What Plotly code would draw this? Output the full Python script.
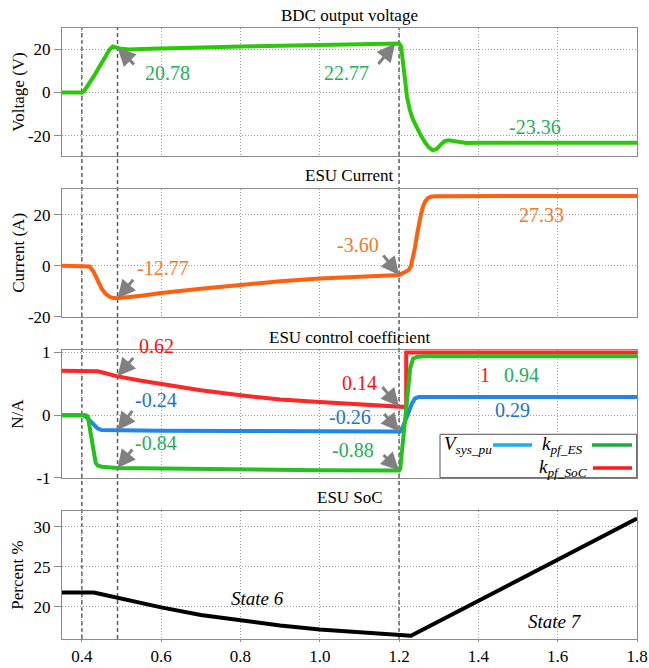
import plotly.graph_objects as go
from plotly.subplots import make_subplots

# ---- simulation traces (time in s) ----
t_volt = [0.35, 0.40, 0.405, 0.415, 0.43, 0.445, 0.46, 0.47, 0.478, 0.485, 0.49, 0.50, 0.51, 0.52,
          0.55, 0.6, 0.7, 0.8, 0.9, 1.0, 1.1, 1.2, 1.205, 1.21, 1.215, 1.22, 1.227, 1.235, 1.245,
          1.255, 1.265, 1.275, 1.285, 1.295, 1.305, 1.315, 1.325, 1.335, 1.35, 1.37, 1.4, 1.5,
          1.6, 1.7, 1.8]
v_bdc = [0, 0, 0.5, 3, 7.5, 12.2, 17, 20, 21.4, 21.3, 20.78, 20.3, 20.1, 20.05,
         20.2, 20.5, 21.0, 21.4, 21.8, 22.1, 22.45, 22.77, 21.5, 15, 6, -2, -8, -12.5, -16.5,
         -20, -23, -25.5, -26.8, -26.2, -24.2, -22.6, -22.2, -22.5, -23.2, -23.4, -23.36, -23.36,
         -23.36, -23.36, -23.36]

t_curr = [0.35, 0.415, 0.42, 0.43, 0.44, 0.45, 0.46, 0.47, 0.48, 0.49, 0.55, 0.6, 0.7, 0.8,
          0.9, 1.0, 1.1, 1.2, 1.215, 1.225, 1.23, 1.235, 1.24, 1.245, 1.25, 1.255, 1.26, 1.265,
          1.272, 1.28, 1.29, 1.31, 1.5, 1.8]
i_esu = [0, 0, -0.3, -2.5, -6, -9, -11, -12.2, -12.7, -12.77, -11.8, -10.7, -9.0, -7.5,
         -6.1, -5.0, -4.2, -3.6, -2.5, -1.5, 0, 3, 7, 12, 16.5, 20, 23, 25,
         26.5, 27.1, 27.3, 27.33, 27.33, 27.33]

t_soc_k = [0.35, 0.43, 0.44, 0.46, 0.49, 0.55, 0.6, 0.7, 0.8, 0.9, 1.0, 1.1, 1.2, 1.218, 1.218, 1.8]
k_pf_soc = [0.71, 0.71, 0.70, 0.67, 0.62, 0.55, 0.50, 0.40, 0.32, 0.25, 0.21, 0.17, 0.14, 0.13, 1.0, 1.0]

t_vsys = [0.35, 0.405, 0.41, 0.42, 0.43, 0.44, 0.45, 0.49, 0.6, 0.8, 1.0, 1.2, 1.203, 1.212,
          1.222, 1.232, 1.24, 1.25, 1.8]
v_sys_pu = [0, 0, -0.02, -0.09, -0.16, -0.21, -0.235, -0.24, -0.245, -0.25, -0.255, -0.26, -0.26,
            -0.15, 0.02, 0.18, 0.27, 0.29, 0.29]

t_kes = [0.35, 0.41, 0.415, 0.42, 0.425, 0.43, 0.435, 0.44, 0.45, 0.49, 0.6, 0.8, 1.0, 1.2,
         1.203, 1.21, 1.22, 1.228, 1.235, 1.245, 1.26, 1.8]
k_pf_es = [0, 0, -0.02, -0.2, -0.45, -0.65, -0.76, -0.8, -0.82, -0.84, -0.85, -0.865, -0.875, -0.88,
           -0.85, -0.4, 0.3, 0.75, 0.9, 0.93, 0.94, 0.94]

t_soc = [0.35, 0.43, 0.45, 0.49, 0.55, 0.6, 0.7, 0.8, 0.9, 1.0, 1.1, 1.2, 1.23, 1.8]
soc = [21.8, 21.8, 21.6, 21.15, 20.5, 19.95, 19.0, 18.3, 17.7, 17.2, 16.8, 16.45, 16.4, 31.05]

# event instants marked by vertical dashed lines
event_times = [0.40, 0.49, 1.20]

# axis ticks
x_ticks = [0.4, 0.6, 0.8, 1.0, 1.2, 1.4, 1.6, 1.8]
x_tick_text = ["0.4", "0.6", "0.8", "1.0", "1.2", "1.4", "1.6", "1.8"]
volt_ticks = [-20, 0, 20]
volt_tick_text = ["-20", "0", "20"]
curr_ticks = [-20, 0, 20]
curr_tick_text = ["-20", "0", "20"]
coef_ticks = [-1, 0, 1]
coef_tick_text = ["-1", "0", "1"]
soc_ticks = [20, 25, 30]
soc_tick_text = ["20", "25", "30"]

panel_titles = ["BDC output voltage", "ESU Current", "ESU control coefficient", "ESU SoC"]
y_titles = ["Voltage (V)", "Current (A)", "N/A", "Percent %"]

FONT = "Liberation Serif"
GREEN_V = "#2bc80a"
ORANGE = "#ff5f0f"
RED = "#ff2626"
BLUE = "#1f86f0"
GREEN_K = "#22c11e"
LBL_GREEN = "#1fae5c"
LBL_ORANGE = "#f5782a"
LBL_RED = "#ff1010"
LBL_BLUE = "#1b74d0"
ARROW = "#808080"

fig = make_subplots(rows=4, cols=1, shared_xaxes=False)

fig.add_trace(go.Scatter(x=t_volt, y=v_bdc, mode="lines", line=dict(color=GREEN_V, width=4),
                         showlegend=False), row=1, col=1)
fig.add_trace(go.Scatter(x=t_curr, y=i_esu, mode="lines", line=dict(color=ORANGE, width=4),
                         showlegend=False), row=2, col=1)
fig.add_trace(go.Scatter(x=t_soc_k, y=k_pf_soc, mode="lines", line=dict(color=RED, width=4),
                         showlegend=False), row=3, col=1)
fig.add_trace(go.Scatter(x=t_vsys, y=v_sys_pu, mode="lines", line=dict(color=BLUE, width=4),
                         showlegend=False), row=3, col=1)
fig.add_trace(go.Scatter(x=t_kes, y=k_pf_es, mode="lines", line=dict(color=GREEN_K, width=4),
                         showlegend=False), row=3, col=1)
fig.add_trace(go.Scatter(x=t_soc, y=soc, mode="lines", line=dict(color="black", width=4),
                         showlegend=False), row=4, col=1)

domains = [[0.7905, 1.0], [0.5275, 0.736], [0.2635, 0.473], [0.0, 0.2095]]
y_ranges = [[-29.5, 30], [-20, 30], [-1.0, 1.04], [16, 32]]
y_tickvals = [volt_ticks, curr_ticks, coef_ticks, soc_ticks]
y_ticktext = [volt_tick_text, curr_tick_text, coef_tick_text, soc_tick_text]

axis_common = dict(showline=True, mirror=True, linecolor="#8a8a8a", linewidth=1,
                   showgrid=True, gridcolor="#9a9a9a", gridwidth=1, griddash="1px,2px",
                   zeroline=False, automargin=False,
                   tickfont=dict(family=FONT, size=17, color="black"))

for k in range(4):
    xa = "xaxis" if k == 0 else f"xaxis{k + 1}"
    ya = "yaxis" if k == 0 else f"yaxis{k + 1}"
    last = k == 3
    fig.layout[xa].update(range=[0.35, 1.8], tickvals=x_ticks, ticktext=x_tick_text,
                          showticklabels=last, ticks="outside" if last else "",
                          ticklen=2, tickcolor="#8a8a8a", **axis_common)
    fig.layout[ya].update(domain=domains[k], range=y_ranges[k], tickvals=y_tickvals[k],
                          ticktext=y_ticktext[k], ticks="outside", ticklen=7,
                          tickcolor="#8a8a8a", **axis_common)

annotations = []

# panel titles and y-axis titles
title_y = [1.021, 0.759, 0.494, 0.231]
for k in range(4):
    annotations.append(dict(text=panel_titles[k], xref="paper", yref="paper", x=0.5,
                            y=title_y[k], xanchor="center", yanchor="middle", showarrow=False,
                            font=dict(family=FONT, size=17, color="black")))
    mid = (domains[k][0] + domains[k][1]) / 2
    annotations.append(dict(text=y_titles[k], xref="paper", yref="paper", x=-0.077, y=mid,
                            xanchor="center", yanchor="middle", textangle=-90, showarrow=False,
                            font=dict(family=FONT, size=17, color="black")))


def value_label(text, x, y, color, axis, yshift=0):
    annotations.append(dict(text=text, x=x, y=y, xref=f"x{axis}", yref=f"y{axis}",
                            showarrow=False, xanchor="center", yanchor="middle", yshift=yshift,
                            font=dict(family=FONT, size=20, color=color)))


def pointer(x, y, ax, ay, axis):
    annotations.append(dict(text="", x=x, y=y, xref=f"x{axis}", yref=f"y{axis}",
                            showarrow=True, arrowhead=2, arrowsize=1.2, arrowwidth=3,
                            arrowcolor=ARROW, ax=ax, ay=ay, standoff=0))


# voltage panel
value_label("20.78", 0.617, 9.0, LBL_GREEN, 1)
pointer(0.49, 20.78, 18, 18, 1)
value_label("22.77", 1.067, 9.0, LBL_GREEN, 1)
pointer(1.19, 22.77, -18, 22, 1)
value_label("-23.36", 1.542, -15.85, LBL_GREEN, 1)

# current panel
value_label("-12.77", 0.604, -1.0, LBL_ORANGE, 2)
pointer(0.49, -12.77, 17, -20, 2)
value_label("-3.60", 1.096, 8.14, LBL_ORANGE, 2)
pointer(1.2, -3.6, -17, -21, 2)
value_label("27.33", 1.559, 19.9, LBL_ORANGE, 2)

# control coefficient panel
value_label("0.62", 0.588, 1.02, LBL_RED, 3, yshift=5)
pointer(0.49, 0.62, 17, -20, 3)
value_label("-0.24", 0.588, 0.243, LBL_BLUE, 3)
pointer(0.49, -0.24, 16, -21, 3)
value_label("-0.84", 0.588, -0.447, LBL_GREEN, 3)
pointer(0.49, -0.84, 16, -20, 3)
value_label("0.14", 1.100, 0.509, LBL_RED, 3)
pointer(1.2, 0.14, -18, -21, 3)
value_label("-0.26", 1.075, -0.023, LBL_BLUE, 3)
pointer(1.2, -0.26, -16, -19, 3)
value_label("-0.88", 1.083, -0.554, LBL_GREEN, 3)
pointer(1.2, -0.88, -17, -17, 3)
value_label("1", 1.416, 0.641, LBL_RED, 3)
value_label("0.94", 1.508, 0.641, LBL_GREEN, 3)
value_label("0.29", 1.487, 0.084, LBL_BLUE, 3)

# SoC panel state labels
annotations.append(dict(text="<i>State 6</i>", x=0.844, y=21.09, xref="x4", yref="y4",
                        showarrow=False, font=dict(family=FONT, size=19, color="black")))
annotations.append(dict(text="<i>State 7</i>", x=1.592, y=18.16, xref="x4", yref="y4",
                        showarrow=False, font=dict(family=FONT, size=19, color="black")))

shapes = []
for t in event_times:
    shapes.append(dict(type="line", xref="x4", yref="paper", x0=t, x1=t, y0=0, y1=1,
                       line=dict(color="#5a5a5a", width=1.5, dash="4px,3px"), layer="below"))


# hand-built legend box for the coefficient panel
def px_x(p):
    return (p - 62) / 575


def px_y(p):
    return (639 - p) / 611


shapes.append(dict(type="rect", xref="paper", yref="paper", x0=px_x(440), x1=px_x(636.7),
                   y0=px_y(477.7), y1=px_y(434.3), fillcolor="white",
                   line=dict(color="#505050", width=1), layer="above"))
legend_rows = [
    ("<i>V</i><sub><i>sys_pu</i></sub>", 468, 445, 493, 532, "#14b0f0"),
    ("<i>k</i><sub><i>pf_ES</i></sub>", 562, 445, 592, 632, "#1aae3c"),
    ("<i>k</i><sub><i>pf_SoC</i></sub>", 563, 468, 593, 632, "#ff1a1a"),
]
for label, tx, ty, lx0, lx1, col in legend_rows:
    annotations.append(dict(text=label, xref="paper", yref="paper", x=px_x(tx), y=px_y(ty),
                            xanchor="center", yanchor="middle", showarrow=False,
                            font=dict(family=FONT, size=19, color="black")))
    shapes.append(dict(type="line", xref="paper", yref="paper", x0=px_x(lx0), x1=px_x(lx1),
                       y0=px_y(ty), y1=px_y(ty), line=dict(color=col, width=3.5), layer="above"))

fig.update_layout(width=649, height=668, margin=dict(l=62, r=12, t=28, b=29, autoexpand=False),
                  paper_bgcolor="white", plot_bgcolor="rgba(0,0,0,0)",
                  annotations=annotations, shapes=shapes, showlegend=False,
                  font=dict(family=FONT, color="black"))

fig.write_html("out.html")
